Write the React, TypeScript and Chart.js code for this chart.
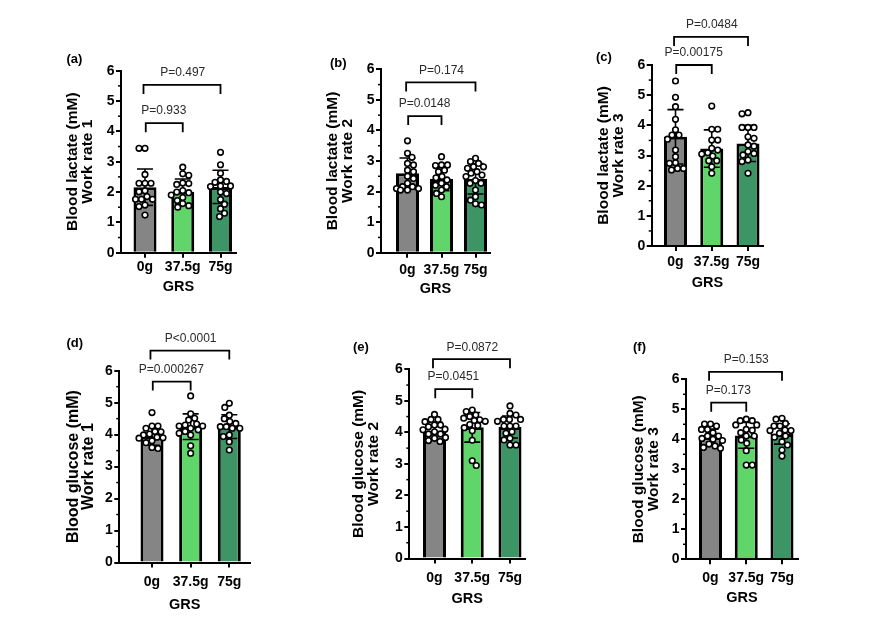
import React, { useEffect, useRef } from "react";
import { Chart, registerables } from "chart.js";

Chart.register(...registerables);

const FONT = "'Liberation Sans', Arial, Helvetica, sans-serif";

// ---------- data ----------
const categories = ["0g", "37.5g", "75g"];
const bracketPairs = [
  [0, 1],
  [0, 2],
];

// (a) Blood lactate, work rate 1
const lactateWR1Means = [2.16, 2.01, 2.17];
const lactateWR1SD = [0.6, 0.42, 0.55];
const lactateWR1Pts0 = [3.44, 3.44, 2.58, 2.29, 2.29, 2.29, 2.04, 2.01, 1.85, 1.76, 1.76, 1.76, 1.57, 1.52, 1.24];
const lactateWR1Pts1 = [2.82, 2.6, 2.55, 2.3, 2.28, 2.25, 2.05, 2.0, 1.98, 1.9, 1.82, 1.72, 1.62, 1.55, 1.5];
const lactateWR1Pts2 = [3.31, 2.9, 2.62, 2.4, 2.35, 2.32, 2.2, 2.2, 2.18, 2.0, 1.95, 1.75, 1.6, 1.45, 1.3, 1.19];
const lactateWR1BracketY = [4.27, 5.53];
const lactateWR1P = ["P=0.933", "P=0.497"];

// (b) Blood lactate, work rate 2
const lactateWR2Means = [2.6, 2.41, 2.42];
const lactateWR2SD = [0.5, 0.38, 0.5];
const lactateWR2Pts0 = [3.66, 3.25, 3.12, 2.92, 2.87, 2.7, 2.65, 2.5, 2.43, 2.27, 2.16, 2.16, 2.1, 2.1, 2.05, 2.05];
const lactateWR2Pts1 = [3.14, 2.87, 2.87, 2.85, 2.7, 2.65, 2.49, 2.45, 2.38, 2.27, 2.21, 2.16, 2.05, 1.94, 1.83];
const lactateWR2Pts2 = [3.09, 2.98, 2.92, 2.81, 2.81, 2.76, 2.6, 2.65, 2.54, 2.49, 2.36, 2.27, 2.27, 2.05, 1.83, 1.72, 1.56, 1.6];
const lactateWR2BracketY = [4.47, 5.57];
const lactateWR2P = ["P=0.0148", "P=0.174"];

// (c) Blood lactate, work rate 3
const lactateWR3Means = [3.62, 3.23, 3.4];
const lactateWR3SD = [0.9, 0.62, 0.6];
const lactateWR3Pts0 = [5.47, 4.93, 4.62, 4.2, 3.85, 3.68, 3.68, 3.54, 3.18, 2.96, 2.76, 2.74, 2.57, 2.57, 2.52];
const lactateWR3Pts1 = [4.64, 3.87, 3.87, 3.51, 3.51, 3.24, 3.18, 3.09, 3.05, 2.98, 2.83, 2.83, 2.63, 2.41];
const lactateWR3Pts2 = [4.38, 4.42, 3.93, 3.93, 3.93, 3.62, 3.57, 3.35, 3.31, 3.13, 3.07, 3.02, 2.85, 2.8, 2.41];
const lactateWR3BracketY = [6.0, 6.93];
const lactateWR3P = ["P=0.00175", "P=0.0484"];

// (d) Blood glucose, work rate 1
const glucoseWR1Means = [3.95, 4.25, 4.25];
const glucoseWR1SD = [0.28, 0.4, 0.37];
const glucoseWR1Pts0 = [4.69, 4.27, 4.27, 4.2, 4.1, 4.09, 4.02, 3.99, 3.92, 3.89, 3.9, 3.81, 3.75, 3.6, 3.57];
const glucoseWR1Pts1 = [5.21, 4.65, 4.51, 4.46, 4.33, 4.27, 4.27, 4.15, 4.2, 4.04, 3.99, 3.65, 3.42, 4.3, 4.1];
const glucoseWR1Pts2 = [4.98, 4.85, 4.61, 4.5, 4.41, 4.35, 4.25, 4.25, 4.2, 4.2, 3.99, 3.94, 3.78, 3.52];
const glucoseWR1BracketY = [5.66, 6.63];
const glucoseWR1P = ["P=0.000267", "P<0.0001"];

// (e) Blood glucose, work rate 2
const glucoseWR2Means = [4.05, 4.16, 4.17];
const glucoseWR2SD = [0.28, 0.47, 0.35];
const glucoseWR2Pts0 = [4.57, 4.41, 4.41, 4.34, 4.23, 4.23, 4.18, 4.1, 4.08, 4.02, 3.95, 3.95, 3.84, 3.81, 3.74, 3.71];
const glucoseWR2Pts1 = [4.71, 4.66, 4.55, 4.5, 4.45, 4.4, 4.38, 4.35, 4.25, 4.22, 4.15, 4.05, 3.75, 3.1, 2.95];
const glucoseWR2Pts2 = [4.84, 4.6, 4.55, 4.41, 4.41, 4.41, 4.35, 4.2, 4.2, 4.2, 4.02, 3.97, 3.81, 3.76, 3.6, 3.6];
const glucoseWR2BracketY = [5.37, 6.32];
const glucoseWR2P = ["P=0.0451", "P=0.0872"];

// (f) Blood glucose, work rate 3
const glucoseWR3Means = [4.07, 4.13, 4.18];
const glucoseWR3SD = [0.27, 0.43, 0.34];
const glucoseWR3Pts0 = [4.51, 4.44, 4.51, 4.33, 4.33, 4.22, 4.11, 4.11, 4.03, 3.96, 3.84, 3.78, 3.73, 3.7, 4.0];
const glucoseWR3Pts1 = [4.67, 4.62, 4.62, 4.48, 4.48, 4.33, 4.22, 4.11, 4.11, 3.98, 3.87, 3.62, 3.14, 3.14, 4.3];
const glucoseWR3Pts2 = [4.7, 4.67, 4.53, 4.44, 4.44, 4.31, 4.29, 4.29, 4.11, 4.07, 3.92, 3.81, 3.64, 3.44, 4.2];
const glucoseWR3BracketY = [5.22, 6.25];
const glucoseWR3P = ["P=0.173", "P=0.153"];

// ---------- styles ----------
const BAR_COLORS = ["#858585", "#60d66a", "#3d9566"];

type PanelDef = {
  letter: string;
  title: string[];
  means: number[];
  sd: number[];
  pts: number[][];
  bracketY: number[];
  pLabels: string[];
  // layout (page pixels)
  L: number; R: number; T: number; B: number; c0: number; c2: number;
  wy: number; hx: number; xpad: number; lx: number; ly: number; cy: number; titleSize: number;
};

const panels: PanelDef[] = [
  {
    letter: "(a)", title: ["Blood lactate (mM)", "Work rate 1"],
    means: lactateWR1Means, sd: lactateWR1SD, pts: [lactateWR1Pts0, lactateWR1Pts1, lactateWR1Pts2],
    bracketY: lactateWR1BracketY, pLabels: lactateWR1P,
    L: 121, R: 236, T: 70.7, B: 252.7, c0: 145, c2: 220.5, wy: 55.5, hx: 43, xpad: 0.9, lx: 66.5, ly: 59, cy: 0, titleSize: 15.5,
  },
  {
    letter: "(b)", title: ["Blood lactate (mM)", "Work rate 2"],
    means: lactateWR2Means, sd: lactateWR2SD, pts: [lactateWR2Pts0, lactateWR2Pts1, lactateWR2Pts2],
    bracketY: lactateWR2BracketY, pLabels: lactateWR2P,
    L: 381, R: 490, T: 69.3, B: 252.7, c0: 407.5, c2: 475.5, wy: 55.8, hx: 45.3, xpad: 3.9, lx: 330, ly: 63, cy: 0, titleSize: 15.5,
  },
  {
    letter: "(c)", title: ["Blood lactate (mM)", "Work rate 3"],
    means: lactateWR3Means, sd: lactateWR3SD, pts: [lactateWR3Pts0, lactateWR3Pts1, lactateWR3Pts2],
    bracketY: lactateWR3BracketY, pLabels: lactateWR3P,
    L: 651.7, R: 763, T: 65, B: 246, c0: 675.5, c2: 748, wy: 55.9, hx: 45.4, xpad: 2.3, lx: 596, ly: 57.7, cy: 0, titleSize: 15.5,
  },
  {
    letter: "(d)", title: ["Blood glucose (mM)", "Work rate 1"],
    means: glucoseWR1Means, sd: glucoseWR1SD, pts: [glucoseWR1Pts0, glucoseWR1Pts1, glucoseWR1Pts2],
    bracketY: glucoseWR1BracketY, pLabels: glucoseWR1P,
    L: 119.3, R: 250, T: 370.7, B: 562.5, c0: 152, c2: 229.3, wy: 53.5, hx: 50.7, xpad: 6.6, lx: 66.5, ly: 343, cy: 300, titleSize: 16,
  },
  {
    letter: "(e)", title: ["Blood glucose (mM)", "Work rate 2"],
    means: glucoseWR2Means, sd: glucoseWR2SD, pts: [glucoseWR2Pts0, glucoseWR2Pts1, glucoseWR2Pts2],
    bracketY: glucoseWR2BracketY, pLabels: glucoseWR2P,
    L: 409.3, R: 525, T: 369.3, B: 558.5, c0: 434.5, c2: 510, wy: 58.5, hx: 49.4, xpad: 6, lx: 353, ly: 347.7, cy: 300, titleSize: 15.5,
  },
  {
    letter: "(f)", title: ["Blood glucose (mM)", "Work rate 3"],
    means: glucoseWR3Means, sd: glucoseWR3SD, pts: [glucoseWR3Pts0, glucoseWR3Pts1, glucoseWR3Pts2],
    bracketY: glucoseWR3BracketY, pLabels: glucoseWR3P,
    L: 686, R: 798, T: 379.3, B: 559.3, c0: 710.5, c2: 782, wy: 55.2, hx: 47.7, xpad: 5.6, lx: 633, ly: 347.7, cy: 300, titleSize: 15.5,
  },
];

// beeswarm layout: horizontal offsets (in x units) so circles barely overlap
function swarmOffsets(vals: number[], pxPerY: number, unitPx: number, diam: number, maxPx: number): number[] {
  const idx = vals.map((_, i) => i).sort((a, b) => vals[b] - vals[a]);
  const placed: { x: number; y: number }[] = [];
  const out = new Array(vals.length).fill(0);
  for (const i of idx) {
    const yp = vals[i] * pxPerY;
    let chosen: number | null = null;
    outer: for (let k = 0; k * 0.5 <= maxPx; k++) {
      const s = k * 0.5;
      const cands = k === 0 ? [0] : placed.length % 2 ? [-s, s] : [s, -s];
      for (const dx of cands) {
        if (placed.every((p) => (p.x - dx) ** 2 + (p.y - yp) ** 2 >= diam * diam)) {
          chosen = dx;
          break outer;
        }
      }
    }
    if (chosen === null) {
      // no free slot within the allowed width: take the least crowded spot
      let best = 0;
      let bestD = -1;
      for (let dx = -maxPx; dx <= maxPx; dx += 0.5) {
        const d = Math.min(...placed.map((p) => (p.x - dx) ** 2 + (p.y - yp) ** 2));
        if (d > bestD) {
          bestD = d;
          best = dx;
        }
      }
      chosen = best;
    }
    placed.push({ x: chosen, y: yp });
    out[i] = chosen / unitPx;
  }
  return out;
}

function geometry(p: PanelDef) {
  const unit = (p.c2 - p.c0) / 2;
  const pxPerY = (p.B - p.T) / 6;
  const xmin = -(p.c0 - p.L) / unit;
  const xmax = 2 + (p.R - p.c2) / unit;
  const cx = Math.floor(p.L - p.wy - 10);
  const cy = p.cy;
  const cw = Math.ceil(p.R + 12 - cx);
  const ch = Math.ceil(p.B + p.hx + 6 - cy);
  const padding = {
    left: p.L - p.wy - cx,
    right: cw - (p.R - cx),
    top: p.T - cy,
    bottom: ch - (p.B + p.hx - cy),
  };
  return { unit, pxPerY, xmin, xmax, cx, cy, cw, ch, padding };
}

function buildConfig(p: PanelDef, g: ReturnType<typeof geometry>): any {
  const capW = 8 / g.unit;
  const leg = 9 / g.pxPerY;

  const scatterData = p.pts.flatMap((vals, gi) => {
    const offs = swarmOffsets(vals, g.pxPerY, g.unit, 6, 13);
    return vals.map((v, i) => ({ x: gi + offs[i], y: v }));
  });

  const errData: { x: number; y: number | null }[] = [];
  p.means.forEach((m, i) => {
    const hi = m + p.sd[i];
    const lo = m - p.sd[i];
    errData.push(
      { x: i - capW, y: hi }, { x: i + capW, y: hi }, { x: i, y: null },
      { x: i, y: hi }, { x: i, y: lo }, { x: i, y: null },
      { x: i - capW, y: lo }, { x: i + capW, y: lo }, { x: i, y: null }
    );
  });

  const bracketSets = bracketPairs.map(([a, b], k) => {
    const yb = p.bracketY[k];
    const xa = a + (k === 1 ? -0.04 : 0.02);
    return {
      type: "line",
      order: 2,
      data: [
        { x: xa, y: yb - leg },
        { x: xa, y: yb },
        { x: b, y: yb },
        { x: b, y: yb - leg },
      ],
      borderColor: "#000",
      borderWidth: 1.8,
      pointRadius: 0,
      fill: false,
      clip: false,
    };
  });

  const annot = {
    id: "annot" + p.letter,
    afterDraw(chart: any) {
      const { ctx, chartArea } = chart;
      const x = chart.scales.x;
      const y = chart.scales.y;
      ctx.save();
      ctx.strokeStyle = "#000";
      ctx.lineWidth = 1.5;
      for (let v = 0.5; v < 6; v += 1) {
        const py = y.getPixelForValue(v);
        ctx.beginPath();
        ctx.moveTo(chartArea.left - 3, py);
        ctx.lineTo(chartArea.left, py);
        ctx.stroke();
      }
      ctx.fillStyle = "#2a2a2a";
      ctx.font = `12px ${FONT}`;
      ctx.textAlign = "center";
      ctx.textBaseline = "middle";
      bracketPairs.forEach(([a, b], k) => {
        const px = x.getPixelForValue((a + b) / 2);
        const py = y.getPixelForValue(p.bracketY[k]) - 12;
        ctx.fillText(p.pLabels[k], px, py);
      });
      ctx.fillStyle = "#000";
      ctx.font = `bold 13px ${FONT}`;
      ctx.textAlign = "left";
      ctx.fillText(p.letter, p.lx - g.cx, p.ly - g.cy);
      ctx.restore();
    },
  };

  return {
    type: "bar",
    data: {
      datasets: [
        {
          type: "scatter",
          order: 0,
          data: scatterData,
          pointRadius: 2.8,
          pointBorderWidth: 1.6,
          pointBackgroundColor: "#fff",
          pointBorderColor: "#000",
        },
        {
          type: "line",
          order: 1,
          data: errData,
          borderColor: "#000",
          borderWidth: 1.6,
          pointRadius: 0,
          fill: false,
          spanGaps: false,
        },
        ...bracketSets,
        {
          type: "bar",
          order: 3,
          data: p.means.map((m, i) => ({ x: i, y: m })),
          backgroundColor: BAR_COLORS,
          borderColor: "#000",
          borderWidth: 3,
          barPercentage: 23 / g.unit,
          categoryPercentage: 1,
        },
      ],
    },
    options: {
      responsive: false,
      maintainAspectRatio: false,
      animation: false,
      events: [],
      layout: { padding: g.padding },
      plugins: { legend: { display: false }, tooltip: { enabled: false } },
      scales: {
        x: {
          type: "linear",
          min: g.xmin,
          max: g.xmax,
          offset: false,
          ticks: {
            stepSize: 1,
            includeBounds: false,
            autoSkip: false,
            maxRotation: 0,
            padding: p.xpad,
            color: "#000",
            font: { family: FONT, size: 14, weight: "bold" },
            callback: (v: number) => {
              const r = Math.round(v);
              return Math.abs(v - r) < 1e-6 ? categories[r] ?? "" : "";
            },
          },
          grid: { drawOnChartArea: false, offset: false, tickLength: 5, lineWidth: 2, color: "#000" },
          border: { display: true, width: 2, color: "#000" },
          title: {
            display: true,
            text: "GRS",
            color: "#000",
            padding: 0,
            font: { family: FONT, size: 14.5, weight: "bold" },
          },
          afterFit: (s: any) => {
            s.height = p.hx;
          },
        },
        y: {
          type: "linear",
          min: 0,
          max: 6,
          ticks: {
            stepSize: 1,
            padding: 1.5,
            color: "#000",
            font: { family: FONT, size: 14, weight: "bold" },
          },
          grid: { drawOnChartArea: false, tickLength: 5, lineWidth: 2, color: "#000" },
          border: { display: true, width: 2, color: "#000" },
          title: {
            display: true,
            text: p.title,
            color: "#000",
            padding: 0,
            font: { family: FONT, size: p.titleSize, weight: "bold", lineHeight: "15px" },
          },
          afterFit: (s: any) => {
            s.width = p.wy;
          },
        },
      },
    },
    plugins: [annot],
  };
}

function Panel({ p }: { p: PanelDef }) {
  const ref = useRef<HTMLCanvasElement>(null);
  const g = geometry(p);
  useEffect(() => {
    const chart = new Chart(ref.current as HTMLCanvasElement, buildConfig(p, g));
    return () => chart.destroy();
  }, []);
  return (
    <canvas
      ref={ref}
      width={g.cw}
      height={g.ch}
      style={{ position: "absolute", left: g.cx, top: g.cy, width: g.cw, height: g.ch }}
    />
  );
}

export default function App() {
  return (
    <div
      style={{
        position: "absolute",
        left: 0,
        top: 0,
        width: 876,
        height: 624,
        background: "#fff",
        overflow: "hidden",
      }}
    >
      {panels.map((p) => (
        <Panel key={p.letter} p={p} />
      ))}
    </div>
  );
}
